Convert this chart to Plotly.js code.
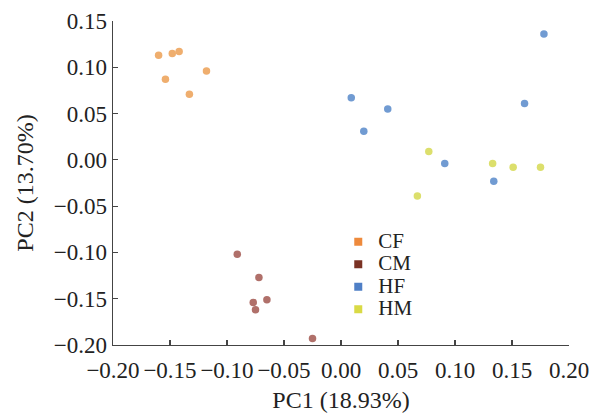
<!DOCTYPE html>
<html>
<head>
<meta charset="utf-8">
<script src="https://cdn.plot.ly/plotly-3.0.1.min.js"></script>
<style>html,body{margin:0;padding:0;background:#fff;}#chart{width:595px;height:413px;}</style>
</head>
<body>
<div id="chart"></div>
<script>
var groups = ["CF", "CM", "HF", "HM"];
var cfX = [-0.160, -0.148, -0.142, -0.118, -0.154, -0.133];
var cfY = [0.113, 0.115, 0.117, 0.096, 0.087, 0.071];
var cmX = [-0.091, -0.072, -0.077, -0.075, -0.065, -0.025];
var cmY = [-0.102, -0.127, -0.154, -0.162, -0.151, -0.193];
var hfX = [0.178, 0.009, 0.041, 0.020, 0.161, 0.091, 0.134];
var hfY = [0.136, 0.067, 0.055, 0.031, 0.061, -0.004, -0.023];
var hmX = [0.077, 0.133, 0.151, 0.175, 0.067];
var hmY = [0.009, -0.004, -0.008, -0.008, -0.039];
var xTicks = [-0.20, -0.15, -0.10, -0.05, 0.00, 0.05, 0.10, 0.15, 0.20];
var yTicks = [-0.20, -0.15, -0.10, -0.05, 0.00, 0.05, 0.10, 0.15];

var pointColors = ["#EFAE6E", "#B0706A", "#719BD2", "#DCDF6C"];
var legendColors = ["#EE8A3C", "#7A3224", "#4F7FC6", "#D9DA45"];
var xs = [cfX, cmX, hfX, hmX];
var ys = [cfY, cmY, hfY, hmY];

var traces = [];
for (var i = 0; i < groups.length; i++) {
  traces.push({
    type: "scatter", mode: "markers", x: xs[i], y: ys[i], name: groups[i],
    showlegend: false, cliponaxis: false,
    marker: {color: pointColors[i], size: 7.5, line: {width: 0}}
  });
}
for (var j = 0; j < groups.length; j++) {
  traces.push({
    type: "scatter", mode: "markers", x: [null], y: [null],
    name: "<span style='font-size:21px'>" + groups[j] + "</span>",
    showlegend: true,
    marker: {color: legendColors[j], size: 8, symbol: "square", line: {width: 0}}
  });
}

var fontFam = "Liberation Serif, Times New Roman, serif";
var layout = {
  width: 595, height: 413,
  margin: {l: 113, r: 26, t: 21, b: 68, pad: 0},
  paper_bgcolor: "#fff", plot_bgcolor: "#fff",
  font: {family: fontFam, size: 22, color: "#222"},
  showlegend: true,
  legend: {x: 0.494, y: 0.369, xanchor: "left", yanchor: "top",
           font: {family: fontFam, size: 15, color: "#222"},
           bgcolor: "rgba(0,0,0,0)", borderwidth: 0, itemwidth: 30, tracegroupgap: 0},
  xaxis: {
    range: [-0.20, 0.20], tickmode: "array", tickvals: xTicks, tickformat: ".2f",
    ticks: "inside", ticklen: 5, tickwidth: 1.2, tickcolor: "#444",
    showline: true, linecolor: "#444", linewidth: 1.3,
    showgrid: false, zeroline: false, automargin: false, tickangle: 0,
    ticklabelstandoff: 4,
    tickfont: {family: fontFam, size: 23, color: "#222"},
    title: {text: "PC1 (18.93%)", font: {family: fontFam, size: 24, color: "#222"}, standoff: 12}
  },
  yaxis: {
    range: [-0.20, 0.15], tickmode: "array", tickvals: yTicks, tickformat: ".2f",
    ticks: "inside", ticklen: 5, tickwidth: 1.2, tickcolor: "#444",
    showline: true, linecolor: "#444", linewidth: 1.3,
    showgrid: false, zeroline: false, automargin: false,
    tickfont: {family: fontFam, size: 23, color: "#222"},
    title: {text: "PC2 (13.70%)", font: {family: fontFam, size: 24, color: "#222"}, standoff: 13}
  }
};

Plotly.newPlot("chart", traces, layout, {staticPlot: true, displayModeBar: false});
</script>
</body>
</html>
